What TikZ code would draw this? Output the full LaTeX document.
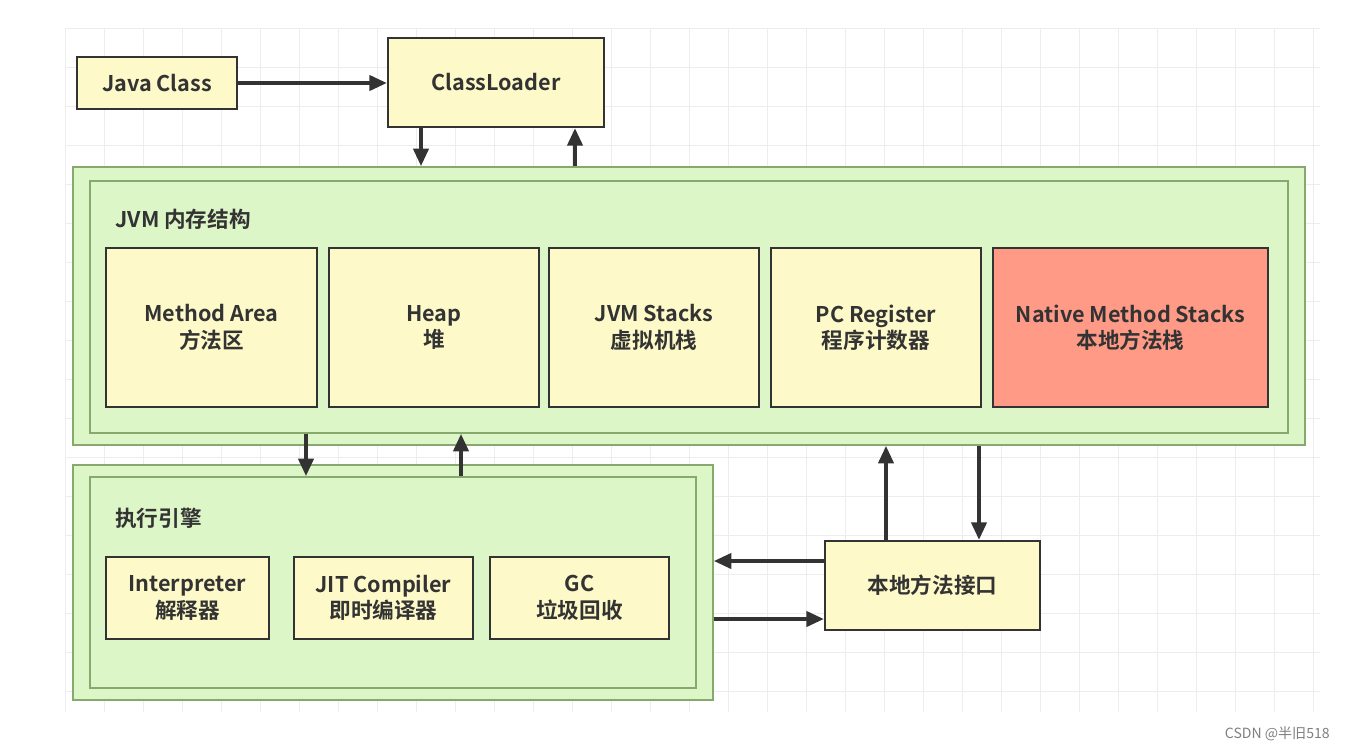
\documentclass[tikz,border=0pt]{standalone}
\usepackage{fontspec}
\usetikzlibrary{arrows.meta}
\newfontfamily\cjk{Noto Sans CJK SC}[BoldFont={Noto Sans CJK SC Bold}]
\definecolor{boxyellow}{HTML}{FDF9C8}
\definecolor{boxred}{HTML}{FF9A86}
\definecolor{jvmgreen}{HTML}{DDF6C8}
\definecolor{jvmline}{HTML}{86AA6E}
\definecolor{inkgray}{HTML}{333333}
\definecolor{gridgray}{HTML}{EDEDED}

\begin{document}
\begin{tikzpicture}[x=0.02cm, y=-0.02cm, line join=miter, >={Triangle[length=10pt,width=8.5pt]}]
\tikzset{
  box/.style={draw=inkgray, line width=1.2pt, fill=boxyellow, align=center,
    text=inkgray, inner sep=0pt, font=\cjk\bfseries\fontsize{12.3}{15}\selectfont},
  holder/.style={draw=jvmline, line width=0.9pt, fill=jvmgreen, inner sep=0pt},
  caption/.style={anchor=west, text=inkgray, inner sep=0pt, font=\cjk\bfseries\fontsize{12.3}{15}\selectfont},
  flow/.style={->, draw=inkgray, line width=2.3pt}
}

% page and grid (px)
\useasboundingbox (0,0) rectangle (1345,751);
\fill[white] (0,0) rectangle (1345,751);
\foreach \gx in {65,104,...,1320}
  \draw[gridgray, line width=0.5pt] (\gx,28) -- (\gx,712);
\foreach \gy in {28,67,...,712}
  \draw[gridgray, line width=0.5pt] (65,\gy) -- (1320,\gy);

% loading
\node[box, minimum width=3.2cm, minimum height=1.04cm] (jc) at (157,83) {Java Class};
\node[box, minimum width=4.32cm, minimum height=1.78cm] (cl) at (496,82.5) {ClassLoader};

% JVM memory
\node[holder, minimum width=24.64cm, minimum height=5.56cm] (jvm) at (689,306) {};
\node[holder, minimum width=23.96cm, minimum height=5.04cm] (jvmin) at (689,307) {};
\node[caption] (jvmcap) at (115,219) {JVM 内存结构};
\node[box, minimum width=4.22cm, minimum height=3.18cm] (ma) at (211.5,327.5) {Method Area\\方法区};
\node[box, minimum width=4.2cm, minimum height=3.18cm] (hp) at (434,327.5) {Heap\\堆};
\node[box, minimum width=4.2cm, minimum height=3.18cm] (js) at (654,327.5) {JVM Stacks\\虚拟机栈};
\node[box, minimum width=4.2cm, minimum height=3.18cm] (pc) at (876,327.5) {PC Register\\程序计数器};
\node[box, fill=boxred, minimum width=5.5cm, minimum height=3.18cm] (nms) at (1130.5,327.5) {Native Method Stacks\\本地方法栈};

% execution engine
\node[holder, minimum width=12.8cm, minimum height=4.7cm] (ex) at (393,582.5) {};
\node[holder, minimum width=12.12cm, minimum height=4.22cm] (exin) at (393,582.5) {};
\node[caption] (excap) at (115,518) {执行引擎};
\node[box, minimum width=3.26cm, minimum height=1.64cm] (ip) at (187.5,598) {Interpreter\\解释器};
\node[box, minimum width=3.58cm, minimum height=1.64cm] (jit) at (383.5,598) {JIT Compiler\\即时编译器};
\node[box, minimum width=3.58cm, minimum height=1.64cm] (gc) at (579.5,598) {GC\\垃圾回收};

% native interface
\node[box, minimum width=4.3cm, minimum height=1.78cm] (ni) at (932.5,585.5) {本地方法接口};

% arrows
\draw[flow] (jc.east) -- (cl.west |- jc.east);
\draw[flow] (421,0 |- cl.south) -- (421,0 |- jvm.north);
\draw[flow] (575,0 |- jvm.north) -- (575,0 |- cl.south);
\draw[flow] (306,0 |- jvmin.south) -- (306,0 |- exin.north);
\draw[flow] (461,0 |- exin.north) -- (461,0 |- jvmin.south);
\draw[flow] (886,0 |- ni.north) -- (886,0 |- jvm.south);
\draw[flow] (979,0 |- jvm.south) -- (979,0 |- ni.north);
\draw[flow] (ni.west |- 0,561) -- (ex.east |- 0,561);
\draw[flow] (ex.east |- 0,619) -- (ni.west |- 0,619);

% watermark
\node[anchor=east, text=gray, inner sep=0pt, font=\cjk\fontsize{8}{9}\selectfont] (wm) at (1330,734) {CSDN @半旧518};
\end{tikzpicture}
\end{document}
